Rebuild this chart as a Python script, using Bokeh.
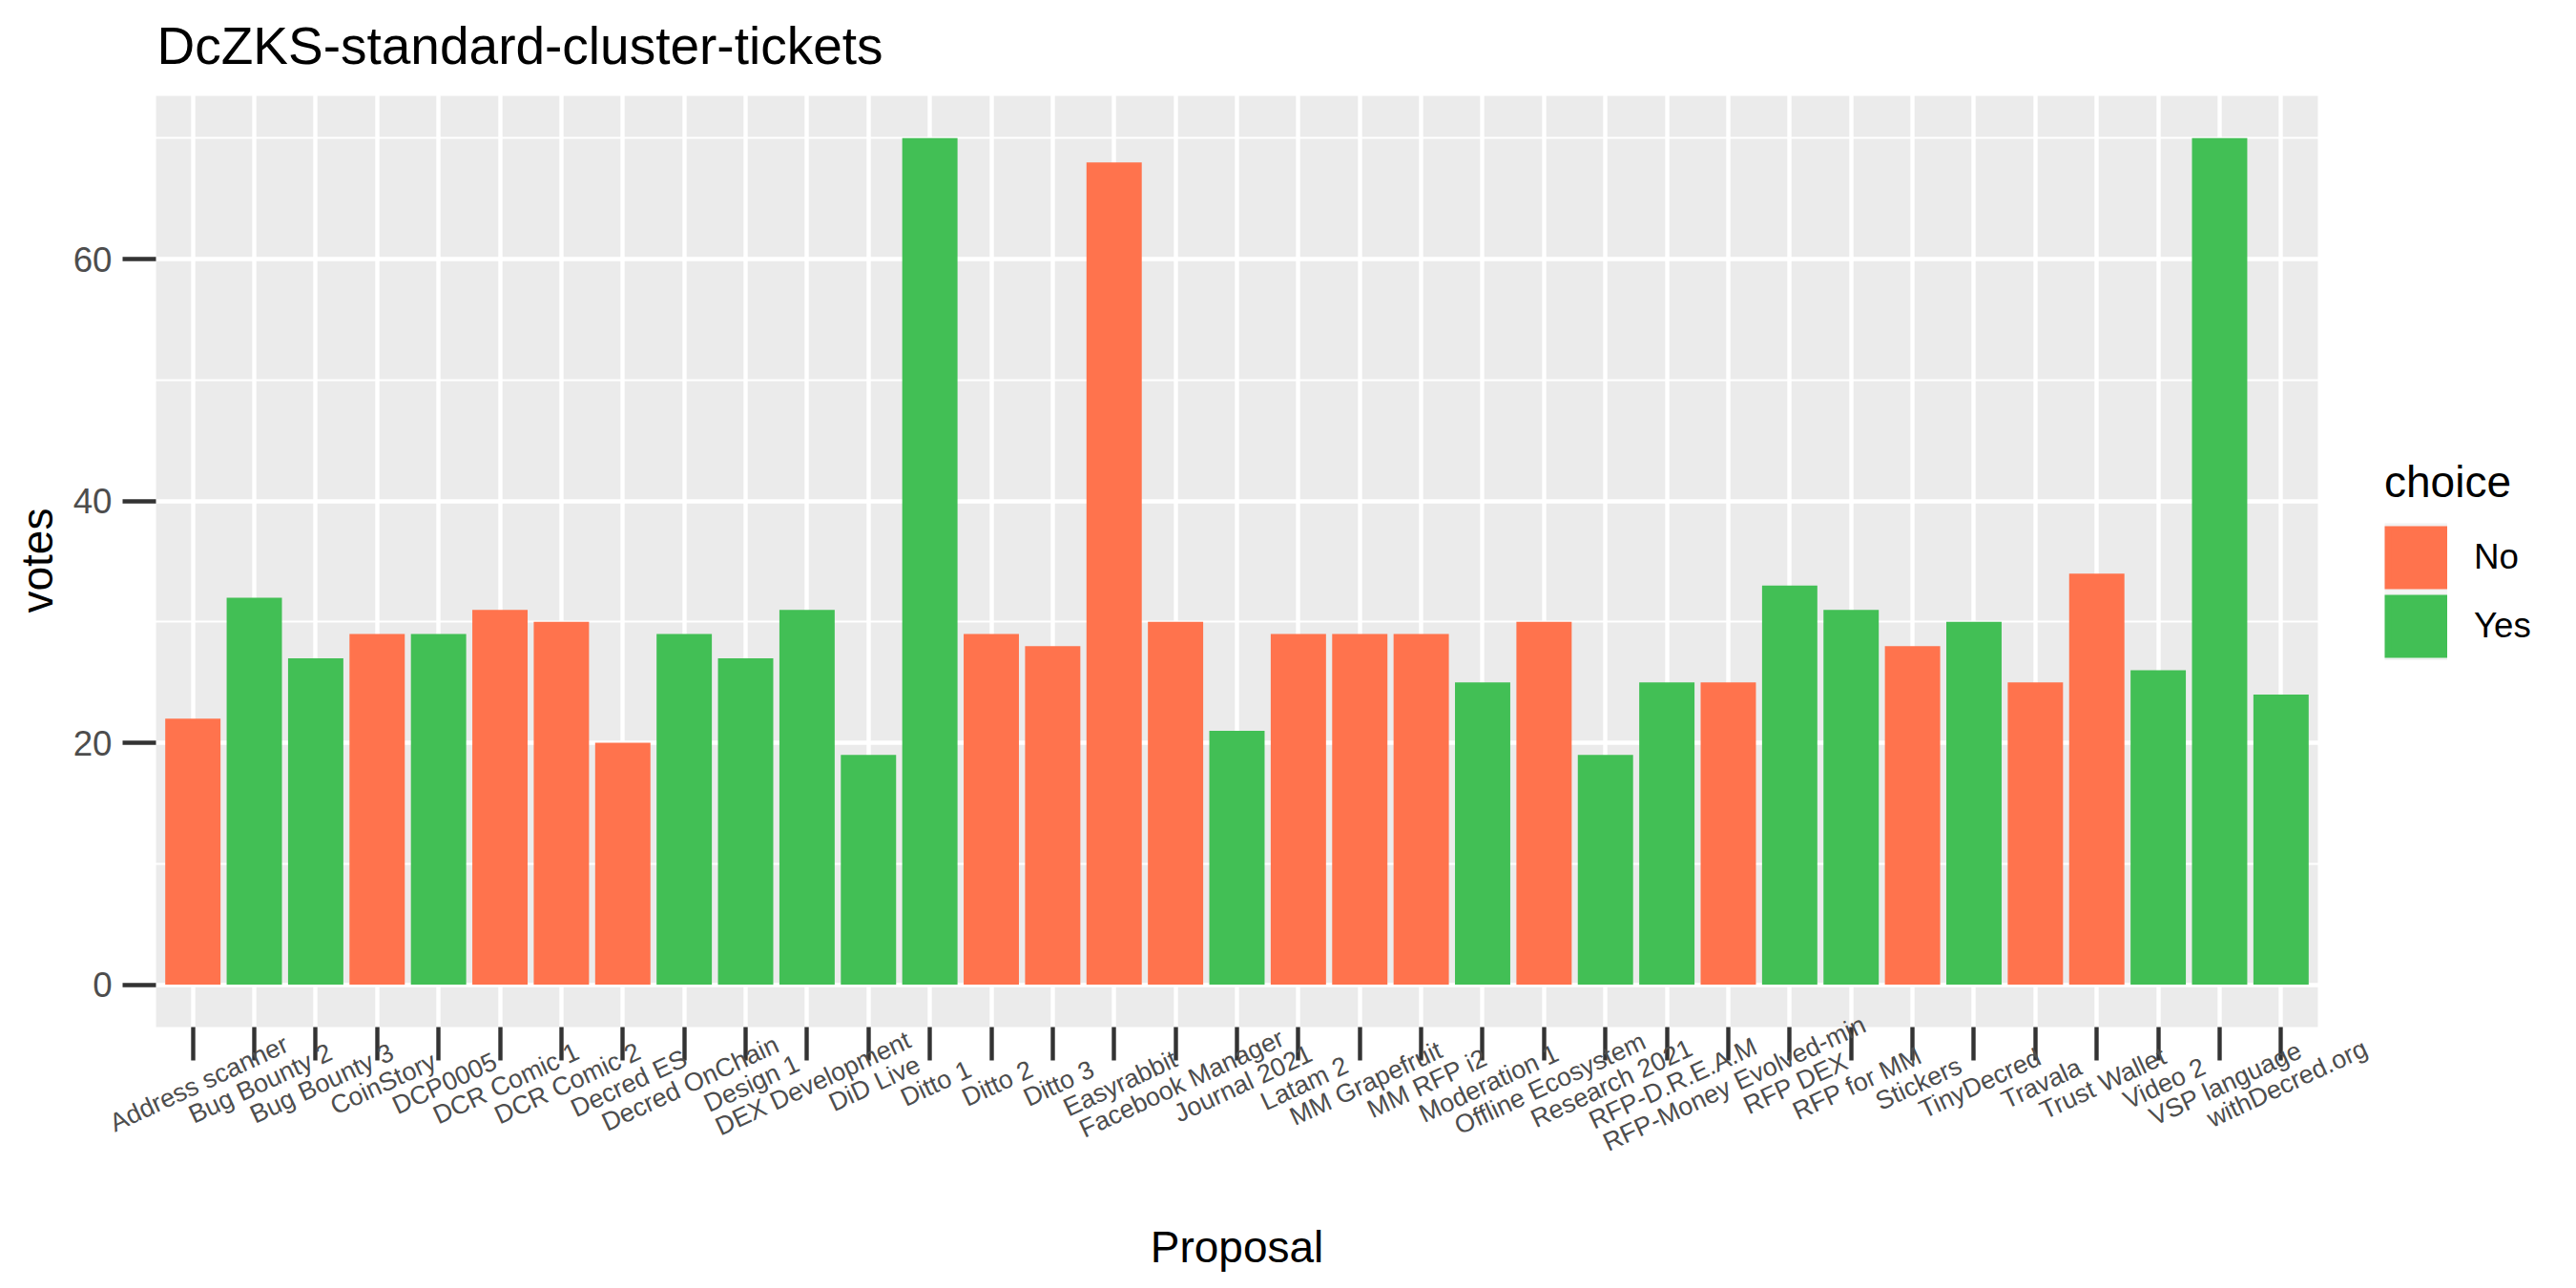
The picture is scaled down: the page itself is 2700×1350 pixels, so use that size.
import math
from bokeh.plotting import figure
from bokeh.models import (ColumnDataSource, LabelSet, Legend, LegendItem, Title,
                          FixedTicker, FactorRange, Range1d, BoxAnnotation)
from bokeh.core.properties import value
from bokeh.embed import file_html
from bokeh.resources import INLINE

# ---------------- data ----------------
proposals = ["Address scanner", "Bug Bounty 2", "Bug Bounty 3", "CoinStory", "DCP0005",
             "DCR Comic 1", "DCR Comic 2", "Decred ES", "Decred OnChain", "Design 1",
             "DEX Development", "DiD Live", "Ditto 1", "Ditto 2", "Ditto 3",
             "Easyrabbit", "Facebook Manager", "Journal 2021", "Latam 2", "MM Grapefruit",
             "MM RFP i2", "Moderation 1", "Offline Ecosystem", "Research 2021", "RFP-D.R.E.A.M",
             "RFP-Money Evolved-min", "RFP DEX", "RFP for MM", "Stickers", "TinyDecred",
             "Travala", "Trust Wallet", "Video 2", "VSP language", "withDecred.org"]
votes = [22, 32, 27, 29, 29, 31, 30, 20, 29, 27, 31, 19, 70, 29, 28, 68, 30, 21, 29, 29,
         29, 25, 30, 19, 25, 25, 33, 31, 28, 30, 25, 34, 26, 70, 24]
choices = ["No", "Yes", "Yes", "No", "Yes", "No", "No", "No", "Yes", "Yes",
           "Yes", "Yes", "Yes", "No", "No", "No", "No", "Yes", "No", "No",
           "No", "Yes", "No", "Yes", "Yes", "No", "Yes", "Yes", "No", "Yes",
           "No", "No", "Yes", "Yes", "Yes"]
choice_levels = ["No", "Yes"]
choice_colors = {"No": "#FF734D", "Yes": "#42BF55"}
y_ticks = [0, 20, 40, 60]
y_minor = [10, 30, 50, 70]

FONT = "Liberation Sans"

# The grey panel spans y -3.5 .. 73.5 and x from 0.6 before the first to 0.6
# after the last category (synthetic coords -0.1 .. 35.1).  The frame itself is
# larger so that the rotated category labels are not clipped.
PANEL_BOTTOM = -3.5
PANEL_TOP = 73.5
PANEL_LEFT = -0.1
PANEL_RIGHT = 35.1

p = figure(x_range=FactorRange(factors=proposals, range_padding=1.623,
                               range_padding_units="absolute"),
           y_range=Range1d(-19.597, 74.131),
           frame_width=2462, frame_height=1188,
           min_border_left=65, min_border_right=173,
           min_border_top=89, min_border_bottom=57,
           output_backend="svg", toolbar_location=None,
           title="DcZKS-standard-cluster-tickets")

p.background_fill_color = "white"
p.border_fill_color = "white"
p.outline_line_color = None

panel = BoxAnnotation(bottom=PANEL_BOTTOM, top=PANEL_TOP, left=PANEL_LEFT, right=PANEL_RIGHT,
                      fill_color="#EBEBEB", fill_alpha=1.0,
                      line_color=None, level="image")
p.add_layout(panel)

# title
p.title.text_font = FONT
p.title.text_font_size = "55px"
p.title.text_font_style = "normal"
p.title.text_color = "black"
p.title.align = "left"
p.title.offset = 99
p.title.standoff = 28

# grids
p.xgrid.grid_line_color = "white"
p.xgrid.grid_line_width = 4.4
p.ygrid.grid_line_color = "white"
p.ygrid.grid_line_width = 4.4
p.ygrid.minor_grid_line_color = "white"
p.ygrid.minor_grid_line_width = 2.2

# y axis, attached to the left edge of the grey panel
p.yaxis.fixed_location = PANEL_LEFT
p.yaxis.ticker = FixedTicker(ticks=y_ticks, minor_ticks=y_minor)
p.yaxis.axis_line_color = None
p.yaxis.major_tick_in = 0
p.yaxis.major_tick_out = 35
p.yaxis.major_tick_line_width = 4.4
p.yaxis.major_tick_line_color = "#333333"
p.yaxis.minor_tick_line_color = None
p.yaxis.major_label_text_font = FONT
p.yaxis.major_label_text_font_size = "36.7px"
p.yaxis.major_label_text_color = "#4D4D4D"
p.yaxis.major_label_standoff = 11

ylab = Title(text="votes", align="left", offset=638, standoff=2,
             text_font=FONT, text_font_size="46px", text_font_style="normal",
             text_color="black")
p.add_layout(ylab, "left")

# x axis: ticks hang from the bottom of the grey panel
p.xaxis.fixed_location = PANEL_BOTTOM
p.xaxis.axis_line_color = None
p.xaxis.major_tick_in = 0
p.xaxis.major_tick_out = 35
p.xaxis.major_tick_line_width = 4.4
p.xaxis.major_tick_line_color = "#333333"
p.xaxis.major_label_text_font_size = "0px"
p.xaxis.major_label_text_color = None
p.xaxis.major_label_standoff = 0

xlab = Title(text="Proposal", align="center", vertical_align="top", standoff=0,
             text_font=FONT, text_font_size="46px", text_font_style="normal",
             text_color="black")
p.add_layout(xlab, "below")

# bars
bar_renderers = {}
key_renderers = {}
for ch in choice_levels:
    xs = [pr for pr, c in zip(proposals, choices) if c == ch]
    ys = [v for v, c in zip(votes, choices) if c == ch]
    src = ColumnDataSource(dict(proposal=xs, votes=ys))
    bar_renderers[ch] = p.vbar(x="proposal", top="votes", bottom=0, width=0.9, source=src,
                               fill_color=choice_colors[ch], line_color=None)
    # single-point line: draws nothing on the plot, only supplies the legend key
    key_renderers[ch] = p.line(x=xs[:1], y=[0], line_color=choice_colors[ch], line_width=66)

key_bg = p.line(x=proposals[:1], y=[0], line_color="#F2F2F2", line_width=72)

# x tick labels: centred on the ticks, rotated 25 degrees
lab_src = ColumnDataSource(dict(x=proposals, text=proposals))
labels = LabelSet(x="x", y=-7.1, text="text", source=lab_src,
                  angle=math.radians(25), text_align="center", text_baseline="top",
                  text_font=value(FONT), text_font_size="27px", text_color="#4D4D4D")
p.add_layout(labels)

# legend
legend = Legend(items=[LegendItem(label=ch, renderers=[key_bg, key_renderers[ch], bar_renderers[ch]])
                       for ch in choice_levels],
                title="choice", location=(-28, 588), orientation="vertical",
                glyph_width=66, glyph_height=72, spacing=0, padding=4, margin=0,
                label_standoff=28, title_standoff=16,
                border_line_color=None, background_fill_alpha=0)
legend.title_text_font = FONT
legend.title_text_font_size = "46px"
legend.title_text_font_style = "normal"
legend.title_text_color = "black"
legend.label_text_font = FONT
legend.label_text_font_size = "36.7px"
legend.label_text_color = "black"
p.add_layout(legend, "right")

open("out.html", "w").write(file_html(p, INLINE))
